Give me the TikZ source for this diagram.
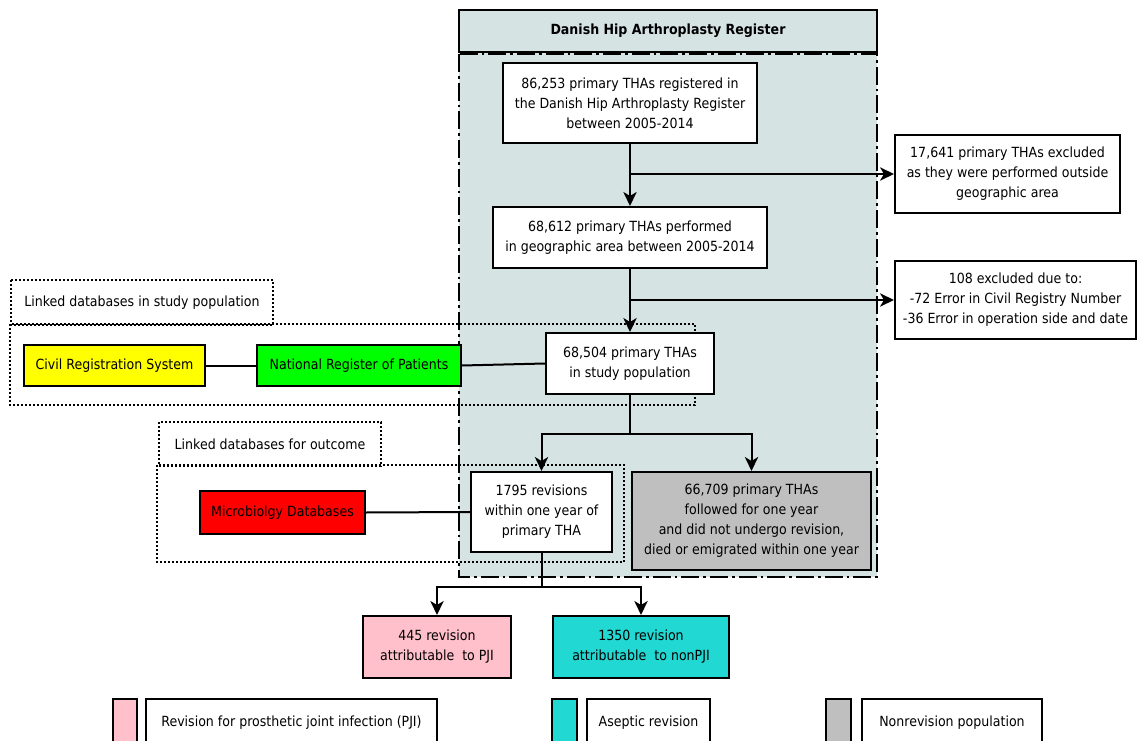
\documentclass[tikz,border=0pt]{standalone}
\usepackage{fontspec}
\setmainfont{DejaVu Sans Condensed}
\usetikzlibrary{arrows.meta}
\definecolor{regfill}{RGB}{214,227,227}
\definecolor{nonrev}{RGB}{191,191,191}
\definecolor{pjipink}{RGB}{255,192,203}
\definecolor{asepcyan}{RGB}{34,216,210}
\definecolor{civyellow}{RGB}{255,255,0}
\definecolor{nrpgreen}{RGB}{0,255,0}
\definecolor{micred}{RGB}{255,0,0}
\begin{document}
\begin{tikzpicture}[x=0.75pt,y=-0.75pt, font=\fontsize{10.5}{15}\selectfont,
  box/.style={draw, line width=1.5pt, fill=white, align=center, inner sep=0pt},
  sz/.style 2 args={minimum width=#1*0.75pt, minimum height=#2*0.75pt},
  conn/.style={line width=1.5pt},
  arr/.style={line width=1.5pt, -{Stealth[length=10.5pt,width=10pt,inset=3pt]}},
  dotbox/.style={line width=1.5pt, dash pattern=on 1.5pt off 1.5pt},
  dashdot/.style={line width=1.5pt, dash pattern=on 13.5pt off 3pt on 2pt off 3pt}]
\useasboundingbox (0,0) rectangle (1137,741);
\clip (0,0) rectangle (1137,741);
% register region
\fill[regfill] (459,52) rectangle (877,577);
\draw[dashdot] (459,54) rectangle (877,577);
\node[box, fill=regfill, sz={418}{42}, font=\fontsize{10.5}{15}\selectfont\bfseries] (title) at (668,31) {Danish Hip Arthroplasty Register};
% dotted groups
\node[box, draw=none, fill=none, sz={260}{43}] (lab1) at (142,302.5) {Linked databases in study population};
\draw[dotbox] (lab1.north west) rectangle (lab1.south east);
\draw[dotbox] (10,324) rectangle (695,405);
\node[box, draw=none, fill=none, sz={220}{42}] (lab2) at (270,444) {Linked databases for outcome};
\draw[dotbox] (lab2.north west) rectangle (lab2.south east);
\draw[dotbox] (157,465) rectangle (624,562);
% main boxes
\node[box, sz={254}{80}] (b1) at (630,103) {86,253 primary THAs registered in\\the Danish Hip Arthroplasty Register\\between 2005-2014};
\node[box, sz={225}{78}] (ex1) at (1007.5,174) {17,641 primary THAs excluded\\as they were performed outside\\geographic area};
\node[box, sz={274}{61}] (b2) at (630,237.5) {68,612 primary THAs performed\\in geographic area between 2005-2014};
\node[box, sz={241}{78}] (ex2) at (1015.5,300) {108 excluded due to:\\-72 Error in Civil Registry Number\\-36 Error in operation side and date};
\node[box, sz={168}{61}] (b3) at (630,363.5) {68,504 primary THAs\\in study population};
\node[box, fill=civyellow, sz={181}{41}] (civ) at (114.5,365.5) {Civil Registration System};
\node[box, fill=nrpgreen, sz={204}{41}] (nrp) at (359,365.5) {National Register of Patients};
\node[box, fill=micred, sz={165}{43}] (mic) at (282.5,512.5) {Microbiolgy Databases};
\node[box, sz={141}{80}] (b4) at (541.5,512) {1795 revisions\\within one year of\\primary THA};
\node[box, fill=nonrev, sz={239}{98}] (b5) at (751.5,521) {66,709 primary THAs\\followed for one year\\and did not undergo revision,\\died or emigrated within one year};
\node[box, fill=pjipink, sz={148}{62}] (pji) at (437,647) {445 revision\\attributable\ \ to PJI};
\node[box, fill=asepcyan, sz={176}{62}] (npji) at (641,647) {1350 revision\\attributable\ \ to nonPJI};
% connectors
\coordinate (j1) at (630,174);
\coordinate (j2) at (630,300);
\draw[arr] (b1.south) -- (b2.north);
\draw[arr] (j1) -- (ex1.west);
\draw[arr] (b2.south) -- (b3.north);
\draw[arr] (j2) -- (ex2.west);
\draw[conn] (civ.east) -- (nrp.west);
\draw[conn] (nrp.east) -- (b3.west);
\draw[arr] (b3.south) -- ++(0,39) -| (b4.north);
\draw[arr] (b3.south) -- ++(0,39) -| (b5.north);
\draw[conn] (mic.east) -- (b4.west);
\draw[arr] (b4.south) -- ++(0,34) -| (pji.north);
\draw[arr] (b4.south) -- ++(0,34) -| (npji.north);
% legend
\node[box, fill=pjipink, sz={24}{48}] (k1) at (125,723) {};
\node[box, sz={291}{48}] (l1) at (291.5,723) {Revision for prosthetic joint infection (PJI)};
\node[box, fill=asepcyan, sz={25}{48}] (k2) at (564.5,723) {};
\node[box, sz={123}{48}] (l2) at (648.5,723) {Aseptic revision};
\node[box, fill=nonrev, sz={25}{48}] (k3) at (838.5,723) {};
\node[box, sz={180}{48}] (l3) at (952,723) {Nonrevision population};
\end{tikzpicture}
\end{document}
